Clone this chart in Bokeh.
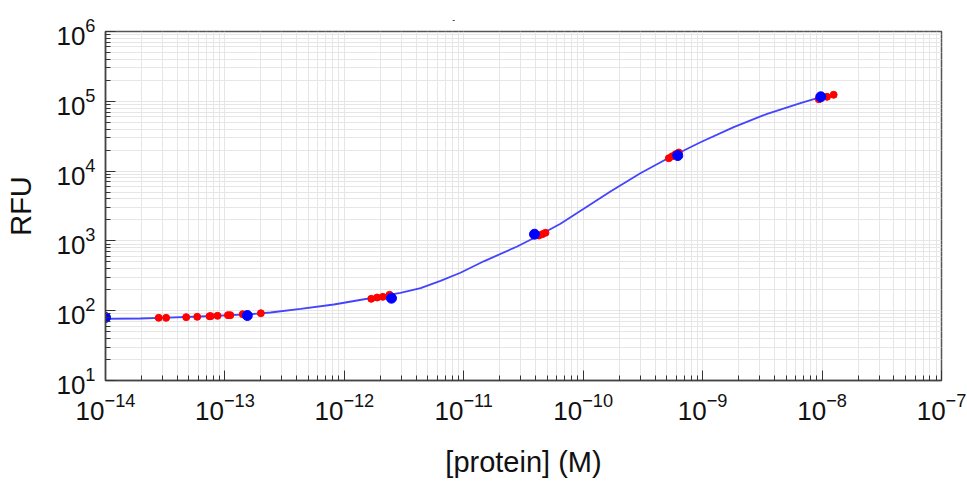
import numpy as np
from bokeh.plotting import figure
from bokeh.models import FixedTicker, LogTickFormatter, Range1d
from bokeh.embed import file_html
from bokeh.resources import INLINE

# fitted curve
fit_conc = [1.00e-14, 1.96e-14, 2.89e-14, 6.24e-14, 1.54e-13, 2.41e-13, 4.30e-13,
            8.17e-13, 1.55e-12, 2.95e-12, 4.35e-12, 6.38e-12, 9.38e-12, 1.47e-11,
            2.80e-11, 3.98e-11, 6.45e-11, 1.01e-10, 1.69e-10, 3.01e-10, 5.04e-10,
            9.59e-10, 1.82e-09, 3.47e-09, 6.59e-09, 9.70e-09]
fit_rfu = [76.6, 77.3, 79.1, 82.6, 88.3, 94.2, 106.4,
           122.7, 148.3, 180.0, 210.0, 268.0, 350.0, 510.0,
           831, 1130, 1758, 2884, 5100, 9300, 15000,
           25900, 42600, 66200, 94000, 114600]

# replicate measurements (red)
red_conc = [2.79e-14, 3.22e-14, 4.74e-14, 5.86e-14, 7.43e-14, 7.60e-14, 8.67e-14,
            1.06e-13, 1.11e-13, 1.41e-13, 2.00e-13,
            1.68e-12, 1.88e-12, 2.10e-12, 2.39e-12,
            4.25e-11, 4.54e-11, 4.83e-11,
            5.21e-10, 5.56e-10, 5.93e-10, 6.31e-10,
            9.40e-09, 1.10e-08, 1.25e-08]
red_rfu = [79.1, 79.1, 80.8, 81.8, 83.4, 83.6, 84.5,
           86.3, 86.3, 89.1, 92.0,
           148, 154.5, 158, 169,
           1194, 1247, 1306,
           15300, 16300, 17460, 18450,
           107000, 116000, 124000]

# standards (blue)
blue_conc = [1.00e-14, 1.54e-13, 2.48e-12, 3.91e-11, 6.19e-10, 9.75e-09]
blue_rfu = [80, 85.3, 151, 1247, 16700, 116000]

x_decades = list(range(-14, -6))
y_decades = list(range(1, 7))

FONT = "Liberation Sans"

p = figure(width=967, height=488, x_axis_type="log", y_axis_type="log",
           x_range=Range1d(1e-14, 1e-7), y_range=Range1d(10, 1e6),
           output_backend="svg", toolbar_location=None,
           min_border_left=105, min_border_right=26, min_border_top=31,
           min_border_bottom=108, background_fill_color="white",
           border_fill_color="white")

p.title.text = "-"
p.title.text_font_size = "7px"
p.title.align = "left"
p.title.offset = 347
p.title.standoff = 20
p.title.text_color = "#222"

p.outline_line_color = "#555"
p.outline_line_width = 1.5

xt = FixedTicker(ticks=[10.0 ** k for k in x_decades],
                 minor_ticks=[m * 10.0 ** k for k in x_decades[:-1] for m in range(2, 10)])
yt = FixedTicker(ticks=[10.0 ** k for k in y_decades],
                 minor_ticks=[m * 10.0 ** k for k in y_decades[:-1] for m in range(2, 10)])
p.xaxis.ticker = xt
p.yaxis.ticker = yt
p.xaxis.formatter = LogTickFormatter()
p.yaxis.formatter = LogTickFormatter()

for ax in (p.xaxis, p.yaxis):
    ax.axis_line_color = "#444"
    ax.axis_line_width = 1.5
    ax.major_tick_line_color = "#333"
    ax.minor_tick_line_color = "#333"
    ax.major_tick_in = 10
    ax.major_tick_out = 0
    ax.minor_tick_in = 5
    ax.minor_tick_out = 0
    ax.major_label_text_font = FONT
    ax.major_label_text_font_size = "26px"
    ax.major_label_text_color = "#111"
    ax.axis_label_text_font = FONT
    ax.axis_label_text_font_size = "29px"
    ax.axis_label_text_font_style = "normal"
    ax.axis_label_text_color = "#111"

p.xaxis.axis_label = "[protein] (M)"
p.yaxis.axis_label = "RFU"
p.xaxis.major_label_standoff = 12
p.yaxis.major_label_standoff = 10
p.xaxis.axis_label_standoff = 23
p.yaxis.axis_label_standoff = 16

for g in (p.xgrid, p.ygrid):
    g.grid_line_color = "#e6e6e6"
    g.minor_grid_line_color = "#e6e6e6"
    g.grid_line_width = 1
    g.minor_grid_line_width = 1

p.line(fit_conc, fit_rfu, line_color="#4444ff", line_width=1.8)
p.scatter(red_conc, red_rfu, size=7, fill_color="#ff0000", line_color="#ff0000")
p.scatter(blue_conc, blue_rfu, size=10, fill_color="#0000ff", line_color="#0000ff")

open("out.html", "w").write(file_html(p, INLINE))
